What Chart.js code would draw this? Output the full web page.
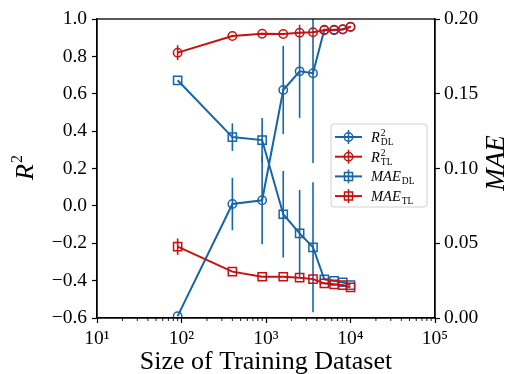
<!DOCTYPE html>
<html><head><meta charset="utf-8">
<script src="https://cdn.jsdelivr.net/npm/chart.js@4"></script>
<style>html,body{margin:0;padding:0;background:#fff;}canvas{display:block}</style>
</head><body>
<canvas id="c" width="506" height="374"></canvas>
<script>
// ---- data ----
const sizes    = [90, 400, 900, 1600, 2500, 3600, 4900, 6400, 8100, 10000];
const r2DL     = [-0.59, 0.01, 0.03, 0.62, 0.72, 0.71, 0.943, 0.94, 0.944, 0.957];
const r2DLErr  = [0, 0.14, 0.235, 0.236, 0.25, 0.48, 0, 0, 0, 0];
const r2TL     = [0.82, 0.909, 0.921, 0.92, 0.927, 0.929, 0.94, 0.943, 0.945, 0.959];
const r2TLErr  = [0.04, 0.006, 0.005, 0.004, 0.004, 0.004, 0.003, 0.003, 0.003, 0.003];
const maeDL    = [0.159, 0.121, 0.119, 0.0694, 0.0566, 0.0473, 0.0259, 0.0248, 0.0239, 0.022];
const maeDLErr = [0, 0.0092, 0.0147, 0.029, 0.029, 0.0435, 0, 0, 0, 0];
const maeTL    = [0.0477, 0.031, 0.0276, 0.0276, 0.027, 0.026, 0.0232, 0.0225, 0.022, 0.0205];
const maeTLErr = [0.0055, 0, 0, 0, 0, 0, 0, 0, 0, 0];
const xTicks   = [10, 100, 1000, 10000, 100000];
const xTickLabels = ['10\u00B9', '10\u00B2', '10\u00B3', '10\u2074', '10\u2075'];
const r2Ticks  = [-0.6, -0.4, -0.2, 0.0, 0.2, 0.4, 0.6, 0.8, 1.0];
const maeTicks = [0.00, 0.05, 0.10, 0.15, 0.20];
const seriesNames = ['R2_DL', 'R2_TL', 'MAE_DL', 'MAE_TL'];

const BLUE = '#1565a8', RED = '#c81010';
const SERIF = "'Liberation Serif', 'DejaVu Serif', serif";

function mk(label, ys, errs, color, style, axis, order) {
  return {
    label, errors: errs, yAxisID: axis, order,
    data: sizes.map((s, i) => ({x: s, y: ys[i]})),
    borderColor: color, backgroundColor: 'rgba(0,0,0,0)',
    pointStyle: style, pointRadius: style === 'rect' ? 5.8 : 4.2,
    pointBorderColor: color, pointBackgroundColor: 'rgba(0,0,0,0)',
    pointBorderWidth: 1.5, borderWidth: 2, tension: 0, clip: 0,
    pointHoverRadius: 0
  };
}

const errorBars = {
  id: 'errorBars',
  beforeDatasetsDraw(chart) {
    const ctx = chart.ctx, a = chart.chartArea;
    ctx.save();
    ctx.beginPath(); ctx.rect(a.left, a.top, a.right - a.left, a.bottom - a.top); ctx.clip();
    const xs = chart.scales.x;
    chart.data.datasets.slice().sort((p, q) => q.order - p.order).forEach(ds => {
      const ys = chart.scales[ds.yAxisID];
      ctx.strokeStyle = ds.borderColor; ctx.lineWidth = 1.6;
      ds.data.forEach((p, j) => {
        const e = ds.errors[j]; if (!e) return;
        const x = xs.getPixelForValue(p.x);
        ctx.beginPath();
        ctx.moveTo(x, ys.getPixelForValue(p.y - e));
        ctx.lineTo(x, ys.getPixelForValue(p.y + e));
        ctx.stroke();
      });
    });
    ctx.restore();
  }
};

const frameAndText = {
  id: 'frameAndText',
  afterDatasetsDraw(chart) {
    const ctx = chart.ctx, a = chart.chartArea, xs = chart.scales.x;
    ctx.save();
    // minor ticks on log axis
    ctx.strokeStyle = '#000'; ctx.lineWidth = 0.9;
    for (let d = 10; d < 100000; d *= 10) {
      for (let k = 2; k <= 9; k++) {
        const x = xs.getPixelForValue(k * d);
        ctx.beginPath(); ctx.moveTo(x, a.bottom); ctx.lineTo(x, a.bottom + 3); ctx.stroke();
      }
    }
    // frame
    ctx.lineWidth = 1.3;
    ctx.strokeRect(a.left, a.top, a.right - a.left, a.bottom - a.top);
    // axis titles
    ctx.fillStyle = '#000';
    ctx.textAlign = 'center'; ctx.textBaseline = 'alphabetic';
    ctx.font = '26px ' + SERIF;
    ctx.fillText('Size of Training Dataset', (a.left + a.right) / 2, 369);
    // left title R^2
    ctx.save();
    ctx.translate(33, 168); ctx.rotate(-Math.PI / 2);
    ctx.font = 'italic 26px ' + SERIF; ctx.textAlign = 'left';
    const wR = ctx.measureText('R').width;
    ctx.fillText('R', -(wR + 8) / 2, 0);
    ctx.font = '16px ' + SERIF;
    ctx.fillText('2', -(wR + 8) / 2 + wR + 1, -11);
    ctx.restore();
    // right title MAE
    ctx.save();
    ctx.translate(504, 163); ctx.rotate(-Math.PI / 2);
    ctx.font = 'italic 27px ' + SERIF; ctx.textAlign = 'center';
    ctx.fillText('MAE', 0, 0);
    ctx.restore();
    // legend
    drawLegend(ctx);
    ctx.restore();
  }
};

function drawLegend(ctx) {
  const bx = 331, by = 124, bw = 96, bh = 83;
  ctx.save();
  ctx.beginPath(); ctx.roundRect(bx, by, bw, bh, 3);
  ctx.fillStyle = 'rgba(255,255,255,0.85)'; ctx.fill();
  ctx.strokeStyle = '#d0d0d0'; ctx.lineWidth = 1; ctx.stroke();
  const rows = [
    {c: BLUE, s: 'circle', main: 'R', sup: '2', sub: 'DL'},
    {c: RED,  s: 'circle', main: 'R', sup: '2', sub: 'TL'},
    {c: BLUE, s: 'rect',   main: 'MAE', sup: '', sub: 'DL'},
    {c: RED,  s: 'rect',   main: 'MAE', sup: '', sub: 'TL'}
  ];
  rows.forEach((r, i) => {
    const y = 137 + i * 19.7;
    ctx.strokeStyle = r.c; ctx.lineWidth = 2;
    ctx.beginPath(); ctx.moveTo(335, y); ctx.lineTo(362, y); ctx.stroke();
    ctx.lineWidth = 1.5;
    ctx.beginPath(); ctx.moveTo(348.5, y - 7); ctx.lineTo(348.5, y + 7); ctx.stroke();
    ctx.beginPath();
    if (r.s === 'circle') ctx.arc(348.5, y, 4.2, 0, Math.PI * 2);
    else ctx.rect(344.5, y - 4, 8, 8);
    ctx.stroke();
    ctx.fillStyle = '#000'; ctx.textAlign = 'left'; ctx.textBaseline = 'alphabetic';
    ctx.font = 'italic 14.5px ' + SERIF;
    ctx.fillText(r.main, 371, y + 5);
    const w = ctx.measureText(r.main).width;
    ctx.font = '9.5px ' + SERIF;
    if (r.sup) ctx.fillText(r.sup, 371 + w + 1, y - 1);
    ctx.fillText(r.sub, 371 + w + 1, y + 8);
  });
  ctx.restore();
}

const tickFont = {family: SERIF, size: 19.5};
new Chart(document.getElementById('c'), {
  type: 'line',
  data: {
    datasets: [
      mk(seriesNames[0], r2DL, r2DLErr, BLUE, 'circle', 'y', 3),
      mk(seriesNames[1], r2TL, r2TLErr, RED, 'circle', 'y', 2),
      mk(seriesNames[2], maeDL, maeDLErr, BLUE, 'rect', 'y1', 1),
      mk(seriesNames[3], maeTL, maeTLErr, RED, 'rect', 'y1', 0)
    ]
  },
  options: {
    responsive: false, animation: false, devicePixelRatio: 1,
    layout: {padding: {top: 19, left: 0, right: 0, bottom: 0}},
    plugins: {legend: {display: false}, tooltip: {enabled: false}},
    events: [],
    scales: {
      x: {
        type: 'logarithmic', min: 10, max: 100000, position: 'bottom',
        afterBuildTicks: s => { s.ticks = xTicks.map(v => ({value: v})); },
        afterFit: s => { s.height = 56; },
        ticks: {
          autoSkip: false, maxRotation: 0, font: tickFont, color: '#000', padding: 4,
          callback: v => xTickLabels[xTicks.indexOf(v)] ?? ''
        },
        grid: {display: true, drawOnChartArea: false, drawTicks: true, tickLength: 5, color: '#000', tickWidth: 1.2},
        border: {display: true, color: '#000', width: 1.3}
      },
      y: {
        type: 'linear', position: 'left', min: -0.6, max: 1.0,
        afterBuildTicks: s => { s.ticks = r2Ticks.map(v => ({value: v})); },
        afterFit: s => { s.width = 97; },
        ticks: {
          font: tickFont, color: '#000', padding: 5,
          callback: v => (v < 0 ? '\u2212' : '') + Math.abs(v).toFixed(1)
        },
        grid: {display: true, drawOnChartArea: false, drawTicks: true, tickLength: 5, color: '#000', tickWidth: 1.2},
        border: {display: true, color: '#000', width: 1.3}
      },
      y1: {
        type: 'linear', position: 'right', min: 0, max: 0.2,
        afterBuildTicks: s => { s.ticks = maeTicks.map(v => ({value: v})); },
        afterFit: s => { s.width = 71; },
        ticks: {
          font: tickFont, color: '#000', padding: 4,
          callback: v => v.toFixed(2)
        },
        grid: {display: true, drawOnChartArea: false, drawTicks: true, tickLength: 5, color: '#000', tickWidth: 1.2},
        border: {display: true, color: '#000', width: 1.3}
      }
    }
  },
  plugins: [errorBars, frameAndText]
});
</script>
</body></html>
